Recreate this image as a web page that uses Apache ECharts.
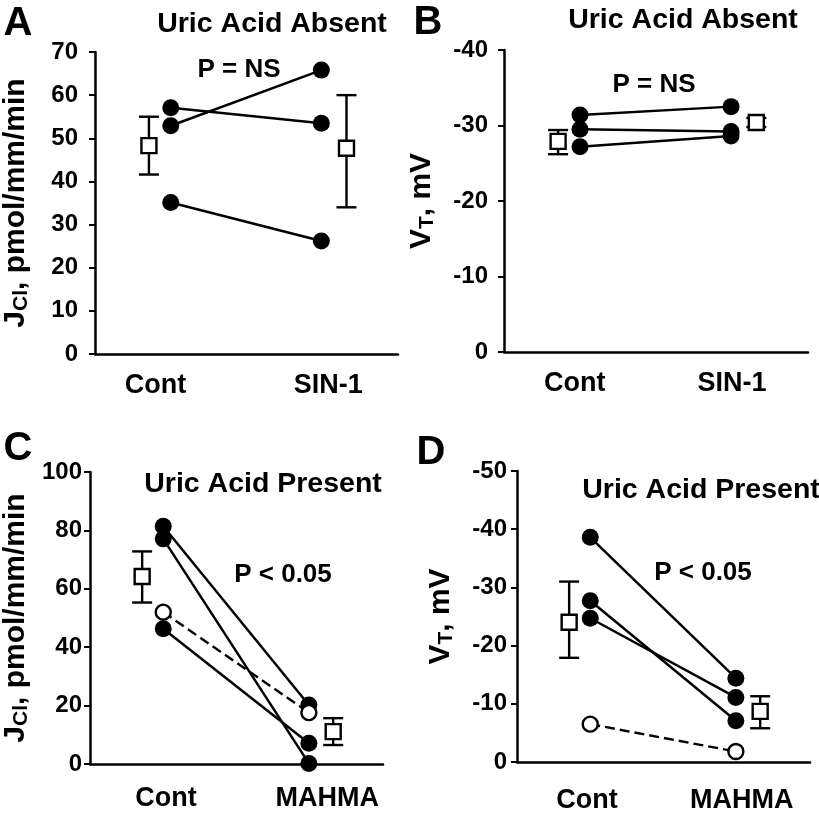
<!DOCTYPE html>
<html><head><meta charset="utf-8">
<script src="https://cdn.jsdelivr.net/npm/echarts@6/dist/echarts.min.js"></script>
<style>html,body{margin:0;padding:0;background:#fff}#c{width:819px;height:822px}</style>
</head><body><div id="c"></div>
<script>
// ---------- data ----------
const categoriesTop = ['Cont', 'SIN-1'];
const categoriesBottom = ['Cont', 'MAHMA'];

// Panel A: J_Cl, uric acid absent (pairs Cont -> SIN-1)
const aCont = [57.1, 52.9, 35.1];
const aSin = [53.5, 65.8, 26.2];
const aMean = [48.3, 47.7];
const aLow = [41.6, 34.0];
const aHigh = [55.0, 60.0];

// Panel B: V_T, uric acid absent
const bCont = [-31.4, -29.5, -27.2];
const bSin = [-32.5, -29.2, -28.6];
const bMean = [-27.9, -30.4];
const bLow = [-26.2, -29.8];
const bHigh = [-29.4, -31.0];

// Panel C: J_Cl, uric acid present (pairs Cont -> MAHMA)
const cCont = [81.4, 77.1, 46.3];
const cMah = [20.2, 0.2, 7.1];
const cOpen = [52.0, 17.6];
const cMean = [64.2, 11.1];
const cLow = [55.3, 6.5];
const cHigh = [72.8, 15.7];

// Panel D: V_T, uric acid present
const dCont = [-38.6, -27.7, -24.7];
const dMah = [-14.4, -7.1, -11.1];
const dOpen = [-6.5, -1.8];
const dMean = [-24.0, -8.7];
const dLow = [-17.9, -5.8];
const dHigh = [-31.0, -11.3];

// ---------- layout ----------
const X_MEAN = [1.78, 8.3];   // x of group means (axis units 0..10)
const X_IND = [2.5, 7.47];    // x of individual points
const FONT = '"Liberation Sans", Arial, sans-serif';

const panels = [
  { grid: {left: 95, top: 52, width: 303, height: 302}, cats: categoriesTop, labelX: [2.0, 7.7], labelMargin: 18,
    y: {min: 0, max: 70, interval: 10, inverse: false, margin: 17}, name: '{a|J}{b|Cl}{a|, pmol/mm/min}', nameGap: 62,
    ind: [aCont, aSin], open: null, mean: aMean, low: aLow, high: aHigh },
  { grid: {left: 504, top: 50, width: 304, height: 302}, cats: categoriesTop, labelX: [2.33, 7.5], labelMargin: 18,
    y: {min: -40, max: 0, interval: 10, inverse: true, margin: 16}, name: '{a|V}{b|T}{a|, mV}', nameGap: 65,
    ind: [bCont, bSin], open: null, mean: bMean, low: bLow, high: bHigh },
  { grid: {left: 90, top: 472, width: 293, height: 292}, cats: categoriesBottom, labelX: [2.59, 8.1], labelMargin: 21,
    y: {min: 0, max: 100, interval: 20, inverse: false, margin: 8}, name: '{a|J}{b|Cl}{a|, pmol/mm/min}', nameGap: 57,
    ind: [cCont, cMah], open: cOpen, mean: cMean, low: cLow, high: cHigh },
  { grid: {left: 517, top: 471, width: 293, height: 291}, cats: categoriesBottom, labelX: [2.39, 7.67], labelMargin: 25,
    y: {min: -50, max: 0, interval: 10, inverse: true, margin: 10}, name: '{a|V}{b|T}{a|, mV}', nameGap: 59,
    ind: [dCont, dMah], open: dOpen, mean: dMean, low: dLow, high: dHigh }
];

const grids = [], xAxes = [], yAxes = [], series = [];
panels.forEach((p, k) => {
  grids.push(Object.assign({containLabel: false, outerBoundsMode: 'none'}, p.grid));
  xAxes.push({
    type: 'value', gridIndex: k, min: 0, max: 10,
    axisLine: {show: true, onZero: false, lineStyle: {color: '#000', width: 2.5}},
    axisTick: {show: false}, splitLine: {show: false},
    axisLabel: {
      customValues: p.labelX, margin: p.labelMargin, color: '#000',
      fontFamily: FONT, fontWeight: 'bold', fontSize: 27,
      formatter: v => p.cats[Math.abs(v - p.labelX[0]) < 0.01 ? 0 : 1]
    }
  });
  yAxes.push({
    type: 'value', gridIndex: k, min: p.y.min, max: p.y.max, interval: p.y.interval, inverse: p.y.inverse,
    axisLine: {show: true, onZero: false, lineStyle: {color: '#000', width: 2.5}},
    axisTick: {show: true, inside: false, length: 6, lineStyle: {color: '#000', width: 2}},
    splitLine: {show: false},
    axisLabel: {margin: p.y.margin, color: '#000', fontFamily: FONT, fontWeight: 'bold', fontSize: 24},
    name: p.name, nameLocation: 'middle', nameRotate: 90, nameGap: p.nameGap,
    nameTextStyle: {
      color: '#000',
      rich: {
        a: {fontFamily: FONT, fontWeight: 'bold', fontSize: 30, lineHeight: 34, color: '#000'},
        b: {fontFamily: FONT, fontWeight: 'bold', fontSize: 21, lineHeight: 22, padding: [10, 0, 0, 0], color: '#000'}
      }
    }
  });
  const [c0, c1] = p.ind;
  c0.forEach((v, i) => {
    series.push({
      type: 'line', xAxisIndex: k, yAxisIndex: k, z: 3,
      data: [[X_IND[0], v], [X_IND[1], c1[i]]],
      symbol: 'circle', symbolSize: 17, showSymbol: true,
      itemStyle: {color: '#000', borderWidth: 0, opacity: 1},
      lineStyle: {color: '#000', width: 2.5},
      emphasis: {disabled: true}, animation: false
    });
  });
  if (p.open) {
    series.push({
      type: 'line', xAxisIndex: k, yAxisIndex: k, z: 3,
      data: [[X_IND[0], p.open[0]], [X_IND[1], p.open[1]]],
      symbol: 'circle', symbolSize: 15,
      itemStyle: {color: '#fff', borderColor: '#000', borderWidth: 2.4, opacity: 1},
      lineStyle: {color: '#000', width: 2.4, type: [10, 5]},
      emphasis: {disabled: true}, animation: false
    });
  }
  series.push({
    type: 'custom', xAxisIndex: k, yAxisIndex: k, z: 4,
    data: p.mean.map((m, i) => [X_MEAN[i], p.low[i], p.high[i]]),
    renderItem: (params, api) => {
      const lo = api.coord([api.value(0), api.value(1)]);
      const hi = api.coord([api.value(0), api.value(2)]);
      const hw = 10;
      const st = {stroke: '#000', lineWidth: 2.4, fill: null};
      return {type: 'group', children: [
        {type: 'line', shape: {x1: lo[0], y1: lo[1], x2: hi[0], y2: hi[1]}, style: st},
        {type: 'line', shape: {x1: lo[0] - hw, y1: lo[1], x2: lo[0] + hw, y2: lo[1]}, style: st},
        {type: 'line', shape: {x1: hi[0] - hw, y1: hi[1], x2: hi[0] + hw, y2: hi[1]}, style: st}
      ]};
    },
    animation: false
  });
  series.push({
    type: 'scatter', xAxisIndex: k, yAxisIndex: k, z: 5,
    data: p.mean.map((m, i) => [X_MEAN[i], m]),
    symbol: 'rect', symbolSize: 15,
    itemStyle: {color: '#fff', borderColor: '#000', borderWidth: 2.4, opacity: 1},
    emphasis: {disabled: true}, animation: false
  });
});

function txt(text, x, y, size) {
  return {type: 'text', x: x, y: y, z: 10, style: {
    text: text, fill: '#000', font: 'bold ' + size + 'px ' + FONT, align: 'center', verticalAlign: 'middle'
  }};
}

const graphics = [
  txt('A', 18, 24, 40), txt('B', 428, 23, 40), txt('C', 18, 449, 40), txt('D', 431, 453, 40),
  txt('Uric Acid Absent', 272, 24, 28.5), txt('Uric Acid Absent', 683, 20, 28.5),
  txt('Uric Acid Present', 263, 484, 28.5), txt('Uric Acid Present', 701, 490, 28.5),
  txt('P = NS', 239, 70, 26), txt('P = NS', 654, 85, 26),
  txt('P < 0.05', 283, 575, 26), txt('P < 0.05', 703, 573, 26)
];

const chart = echarts.init(document.getElementById('c'), null, {renderer: 'canvas'});
chart.setOption({
  animation: false,
  backgroundColor: '#fff',
  grid: grids, xAxis: xAxes, yAxis: yAxes, series: series,
  graphic: graphics
});
</script>
</body></html>
